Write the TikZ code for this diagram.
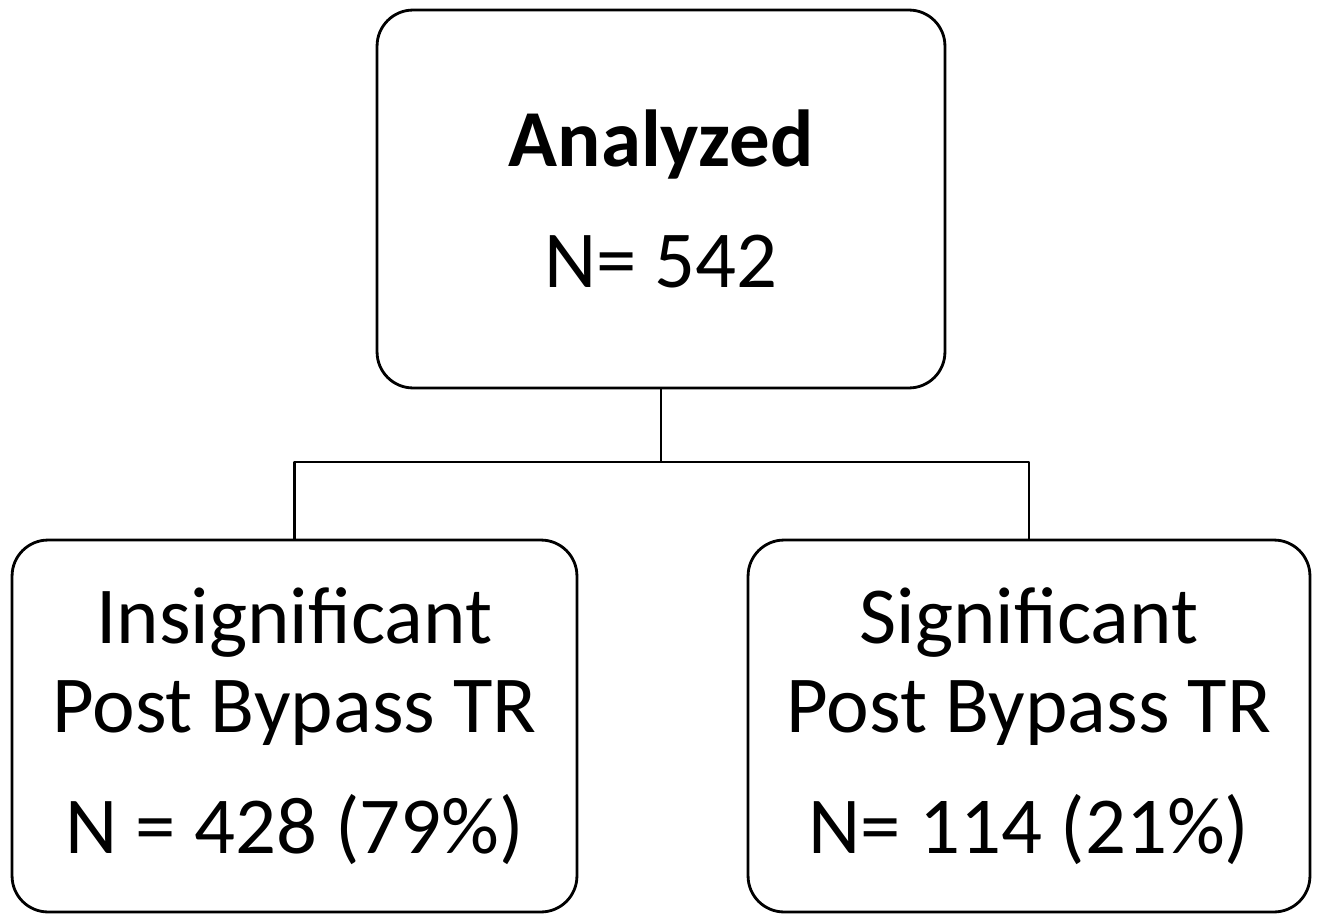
\documentclass[tikz,border=0pt]{standalone}
\usepackage{fontspec}
\setmainfont{Carlito}
\usetikzlibrary{positioning}
\tikzset{
  box/.style={draw, rounded corners=0.72cm, line width=1.6pt, align=center,
    inner sep=0pt, outer sep=0pt, font=\fontsize{46}{51}\selectfont},
  link/.style={line width=1.5pt}
}
\begin{document}
\begin{tikzpicture}[x=0.02cm, y=-0.02cm, line join=round]
\useasboundingbox (0,0) rectangle (1321,916);
\node[box, minimum width=11.36cm, minimum height=7.56cm] (top) at (661,199)
  {\textbf{Analyzed}\\[0.62cm] N= 542};
\node[box, minimum width=11.3cm, minimum height=7.44cm] (ins) at (294.5,726)
  {Insignificant\\ Post Bypass TR\\[0.62cm] N = 428 (79\%)};
\node[box, minimum width=11.24cm, minimum height=7.44cm] (sig) at (1029,726)
  {Significant\\ Post Bypass TR\\[0.62cm] N= 114 (21\%)};
% split line
\draw[link] (top.south) -- ++(0,74) coordinate (split);
\draw[link] (ins.north) |- (split) -| (sig.north);
\end{tikzpicture}
\end{document}
